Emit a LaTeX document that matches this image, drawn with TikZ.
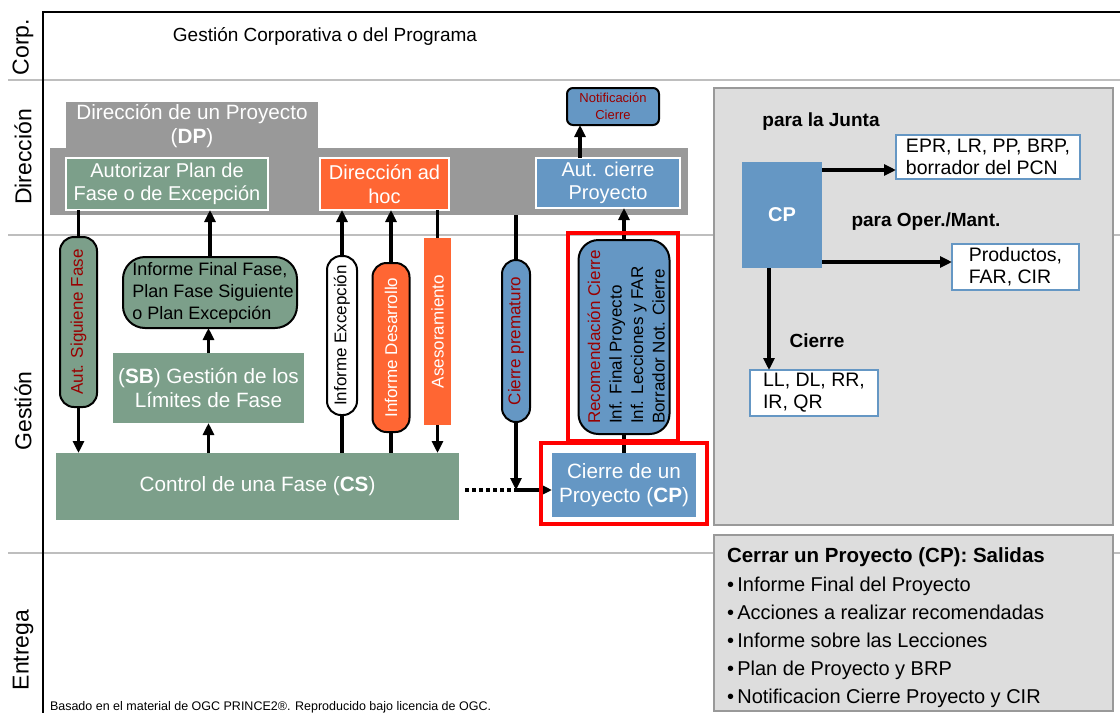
\documentclass[tikz,border=0pt]{standalone}
\usepackage{fontspec}
\setmainfont{Liberation Sans}
\usepackage{graphicx}
\usetikzlibrary{arrows.meta}

\definecolor{fasegreen}{RGB}{124,159,138}
\definecolor{adhocorange}{RGB}{255,102,51}
\definecolor{cierreblue}{RGB}{101,151,196}
\definecolor{bandgray}{RGB}{153,153,153}
\definecolor{panelgray}{RGB}{221,221,221}
\definecolor{lanegray}{RGB}{190,190,190}
\definecolor{darkred}{RGB}{153,0,0}

\newcommand{\boxfont}{\fontsize{20}{23.5}\selectfont}
\newcommand{\corpfont}{\fontsize{19}{23}\selectfont}
\newcommand{\bigboxfont}{\fontsize{20.7}{24}\selectfont}
\newcommand{\midfont}{\fontsize{18}{22}\selectfont}
\newcommand{\pillfont}{\fontsize{17}{21.5}\selectfont}
\newcommand{\panelfont}{\fontsize{19.5}{22}\selectfont}
\newcommand{\tagfont}{\fontsize{19}{22}\selectfont}
\newcommand{\salfont}{\fontsize{20.5}{22}\selectfont}
\newcommand{\lanefont}{\fontsize{23}{27}\selectfont}
\newcommand{\notiffont}{\fontsize{13}{17.5}\selectfont}
\newcommand{\notefont}{\fontsize{12.5}{15}\selectfont}
\newcommand{\vtext}[1]{\rotatebox{90}{#1}}

\begin{document}
\begin{tikzpicture}
  [x=1pt,y=-1pt,every node/.style={inner sep=0pt,outer sep=0pt},
   proc/.style={draw=white,line width=1.5pt,text=white,align=center,font=\boxfont},
   pill/.style={draw=black,line width=2pt,rounded corners=14pt,font=\pillfont},
   outbox/.style={draw=cierreblue,line width=2.2pt,fill=white,align=left,font=\panelfont},
   tagline/.style={font=\bfseries\tagfont},
   conn/.style={line width=3.2pt},
   arr/.style={conn,-{Triangle[length=12pt,width=11pt]}},
   lane/.style={draw=lanegray,line width=2pt},
   hilite/.style={draw=red,line width=3.8pt}]
  \useasboundingbox (0,0) rectangle (1120,713);
  \foreach \y in {80,235,553}
    \draw[lane] (8,\y) -- (1120,\y);
  \draw[line width=2.5pt] (1120,12) -- (43,12) -- (43,713);

  \node[rotate=90,font=\lanefont] (lcorp) at (23,47) {Corp.};
  \node[rotate=90,font=\lanefont] (ldir) at (23,157) {Dirección};
  \node[rotate=90,font=\lanefont] (lgest) at (23,411) {Gestión};
  \node[rotate=90,font=\lanefont] (lentr) at (23,650) {Entrega};
  \node[font=\corpfont] (corp) at (325,36) {Gestión Corporativa o del Programa};

  \node[fill=bandgray,minimum width=638pt,minimum height=67pt] (band) at (369,181.5) {};
  \node[fill=bandgray,text=white,align=center,font=\bigboxfont,minimum width=252pt,minimum height=48pt] (dptab) at (192,126) {Dirección de un Proyecto\\(\textbf{DP})};
  \node[proc,fill=fasegreen,minimum width=202pt,minimum height=52pt] (autfase) at (167,184) {Autorizar Plan de\\Fase o de Excepción};
  \node[proc,fill=adhocorange,minimum width=129pt,minimum height=52pt] (adhoc) at (384.5,184) {Dirección ad\\hoc};
  \node[proc,fill=cierreblue,minimum width=144pt,minimum height=50pt] (autcierre) at (608,183) {Aut. cierre\\Proyecto};
  \node[draw,line width=2pt,rounded corners=6pt,fill=cierreblue,text=darkred,align=center,font=\notiffont,minimum width=92pt,minimum height=37pt] (notif) at (613,106.5) {Notificación\\Cierre};

  \node[pill,fill=fasegreen,text=darkred,minimum width=37pt,minimum height=170pt] (autsig) at (78.5,322) {\vtext{Aut. Siguiene Fase}};
  \node[draw,line width=2pt,rounded corners=22pt,fill=fasegreen,align=left,font=\midfont,minimum width=174pt,minimum height=71pt] (infofinal) at (210,292.5) {\hspace*{6pt}Informe Final Fase,\\\hspace*{6pt}Plan Fase Siguiente\\\hspace*{6pt}o Plan Excepción};
  \node[proc,draw=none,fill=fasegreen,font=\bigboxfont,minimum width=191pt,minimum height=70pt] (sb) at (208.5,388) {(\textbf{SB}) Gestión de los\\Límites de Fase};
  \node[proc,draw=none,fill=fasegreen,font=\bigboxfont,minimum width=403pt,minimum height=67pt] (cs) at (257.5,486.5) {Control de una Fase (\textbf{CS})};
  \node[pill,fill=white,minimum width=30pt,minimum height=159pt] (infexc) at (342,335.5) {\vtext{Informe Excepción}};
  \node[pill,fill=adhocorange,text=white,minimum width=37pt,minimum height=169pt] (infdes) at (391,347.5) {\vtext{Informe Desarrollo}};
  \node[fill=adhocorange,text=white,font=\pillfont,minimum width=27pt,minimum height=187pt] (aseso) at (437.5,331.5) {\vtext{Asesoramiento}};
  \node[pill,fill=cierreblue,text=darkred,minimum width=28pt,minimum height=162pt] (prema) at (516,341) {\vtext{Cierre prematuro}};
  \node[pill,rounded corners=20pt,fill=cierreblue,minimum width=91pt,minimum height=194pt] (recom) at (624,337) {\vtext{\raisebox{-4pt}[\height][\depth]{\begin{tabular}{@{}l@{}}\textcolor{darkred}{Recomendación Cierre}\\Inf. Final Proyecto\\Inf. Lecciones y FAR\\Borrador Not. Cierre\end{tabular}}}};
  \node[proc,draw=none,fill=cierreblue,font=\bigboxfont,minimum width=144pt,minimum height=64pt] (cp) at (624,485) {Cierre de un\\Proyecto (\textbf{CP})};
  \coordinate (prejn) at (516,490);

  \foreach \from/\to in {autsig.north |- autfase.south/autsig.north,
      infexc.south |- cs.north/infexc.south,infdes.south |- cs.north/infdes.south,
      aseso.north |- adhoc.south/aseso.north,prema.north |- band.south/prema.north,
      recom.south |- cp.north/recom.south}
    \draw[conn] (\from) -- (\to);
  \foreach \from/\to in {autsig.south/autsig.south |- cs.north,
      infofinal.north/infofinal.north |- autfase.south,sb.north/sb.north |- infofinal.south,
      sb.south |- cs.north/sb.south,infexc.north/infexc.north |- adhoc.south,
      infdes.north/infdes.north |- adhoc.south,aseso.south/aseso.south |- cs.north,
      prema.south/prejn,prejn/prejn -| cp.west,recom.north/recom.north |- autcierre.south}
    \draw[arr] (\from) -- (\to);
  \draw[arr] ([xshift=-28pt]autcierre.north) -- ([xshift=-28pt]autcierre.north |- notif.south);
  \draw[line width=3.5pt,dash pattern=on 4pt off 3pt] (cs.east |- prejn) ++(6,0) -- (prejn);

  \draw[hilite] (568,233) rectangle (678,441);
  \draw[hilite] (541,443) rectangle (707,524);

  \node[fill=panelgray,draw=bandgray,line width=1.5pt,minimum width=399pt,minimum height=437pt] (panel) at (913.5,306.5) {};
  \node[fill=cierreblue,text=white,font=\bfseries\boxfont,minimum width=80pt,minimum height=106pt] (cpbox) at (782,215) {CP};
  \node[tagline] (junta) at (821,122) {para la Junta};
  \node[outbox,minimum width=184pt,minimum height=44pt] (epr) at (988,157) {EPR, LR, PP, BRP,\\borrador del PCN};
  \node[tagline] (oper) at (926,222) {para Oper./Mant.};
  \node[outbox,minimum width=127pt,minimum height=46pt] (prod) at (1015.5,267) {Productos,\\FAR, CIR};
  \node[tagline] (cierre) at (817,341) {Cierre};
  \node[outbox,minimum width=128pt,minimum height=46pt] (ll) at (814,393) {LL, DL, RR,\\IR, QR};
  \coordinate (cpjunta) at (822,170);
  \coordinate (cpoper) at (822,262);
  \coordinate (cpcierre) at (769,268);
  \foreach \from/\to in {cpjunta/cpjunta -| epr.west,cpoper/cpoper -| prod.west,cpcierre/cpcierre |- ll.north}
    \draw[arr] (\from) -- (\to);

  \node[fill=panelgray,draw=bandgray,line width=2pt,minimum width=399pt,minimum height=176pt] (salidas) at (913.5,623) {};
  \node[anchor=base west,font=\bfseries\salfont] (saltitle) at (727,562) {Cerrar un Proyecto (CP): Salidas};
  \foreach \out [count=\k] in {Informe Final del Proyecto,Acciones a realizar recomendadas,
      Informe sobre las Lecciones,Plan de Proyecto y BRP,Notificacion Cierre Proyecto y CIR}
    \node[anchor=base west,font=\boxfont] (salida\k) at (727,{563+28*\k}) {\textbullet\,\out};

  \node[anchor=base west,font=\notefont] (nota) at (50,710) {Basado en el material de OGC PRINCE2®. Reproducido bajo licencia de OGC.};
\end{tikzpicture}
\end{document}
